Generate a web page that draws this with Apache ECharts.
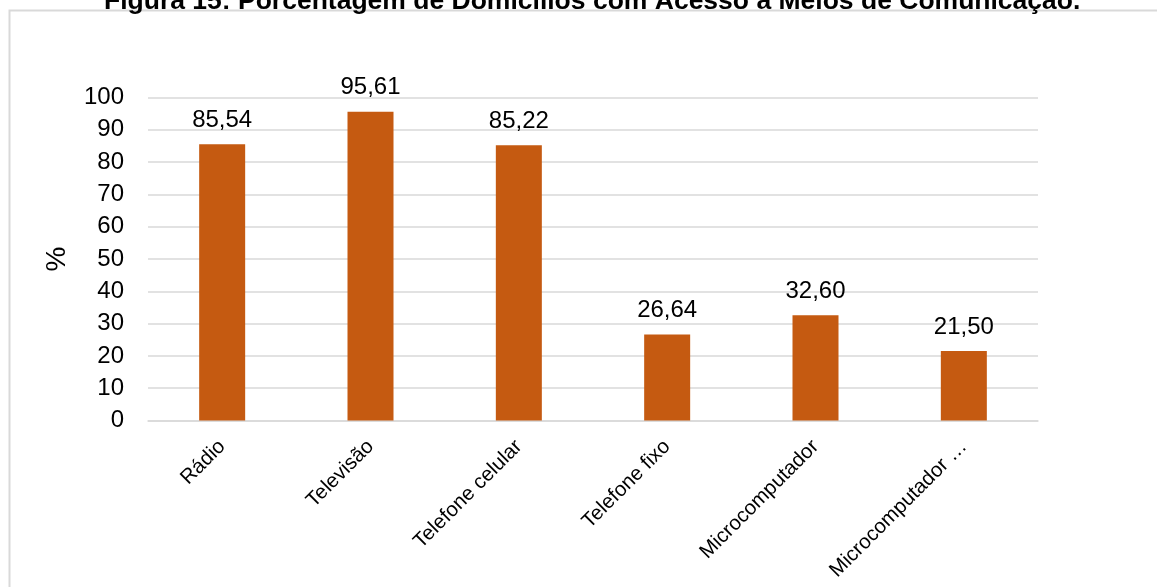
<!DOCTYPE html>
<html>
<head>
<meta charset="utf-8">
<script src="https://cdn.jsdelivr.net/npm/echarts@6/dist/echarts.min.js"></script>
<style>
  html, body { margin: 0; padding: 0; background: #fff; }
  #chart { width: 1157px; height: 587px; }
</style>
</head>
<body>
<div id="chart"></div>
<script>
// Percentage of households with access to each communication medium
const categories = ['Rádio', 'Televisão', 'Telefone celular', 'Telefone fixo', 'Microcomputador', 'Microcomputador …'];
const percentages = [85.54, 95.61, 85.22, 26.64, 32.60, 21.50];
const yTicks = { min: 0, max: 100, interval: 10 };
const titleText = 'Figura 15: Porcentagem de Domicílios com Acesso a Meios de Comunicação.';

const FONT = '"Liberation Sans", Arial, sans-serif';
const chart = echarts.init(document.getElementById('chart'), null, { renderer: 'canvas' });

chart.setOption({
  animation: false,
  backgroundColor: '#ffffff',
  title: {
    text: titleText,
    left: 104,
    top: -12,
    padding: 0,
    textStyle: { fontFamily: FONT, fontSize: 26.5, fontWeight: 'bold', color: '#000' }
  },
  graphic: [{
    type: 'rect',
    silent: true,
    z: -1,
    shape: { x: 9.5, y: 10.5, width: 1300, height: 800 },
    style: { fill: 'none', stroke: '#d9d9d9', lineWidth: 2 }
  }],
  grid: { left: 148, right: 119, top: 97.5, bottom: 166.5, containLabel: false },
  xAxis: {
    type: 'category',
    data: categories,
    axisLine: { show: true, lineStyle: { color: '#d9d9d9', width: 1.5 } },
    axisTick: { show: false },
    axisLabel: {
      interval: 0,
      rotate: 45,
      margin: 23,
      fontFamily: FONT,
      fontSize: 20.5,
      color: '#000'
    }
  },
  yAxis: {
    type: 'value',
    min: yTicks.min,
    max: yTicks.max,
    interval: yTicks.interval,
    name: '%',
    nameLocation: 'middle',
    nameRotate: 90,
    nameGap: 77,
    nameTextStyle: { fontFamily: FONT, fontSize: 28, color: '#000' },
    axisLine: { show: false },
    axisTick: { show: false },
    splitLine: { lineStyle: { color: '#d9d9d9', width: 1.5 } },
    axisLabel: { margin: 24, fontFamily: FONT, fontSize: 24, color: '#000' }
  },
  series: [{
    type: 'bar',
    data: percentages,
    barWidth: 46,
    itemStyle: { color: '#c55a11' },
    label: {
      show: true,
      position: 'top',
      distance: 12,
      fontFamily: FONT,
      fontSize: 24,
      color: '#000',
      formatter: p => p.value.toFixed(2).replace('.', ',')
    }
  }]
});
</script>
</body>
</html>
